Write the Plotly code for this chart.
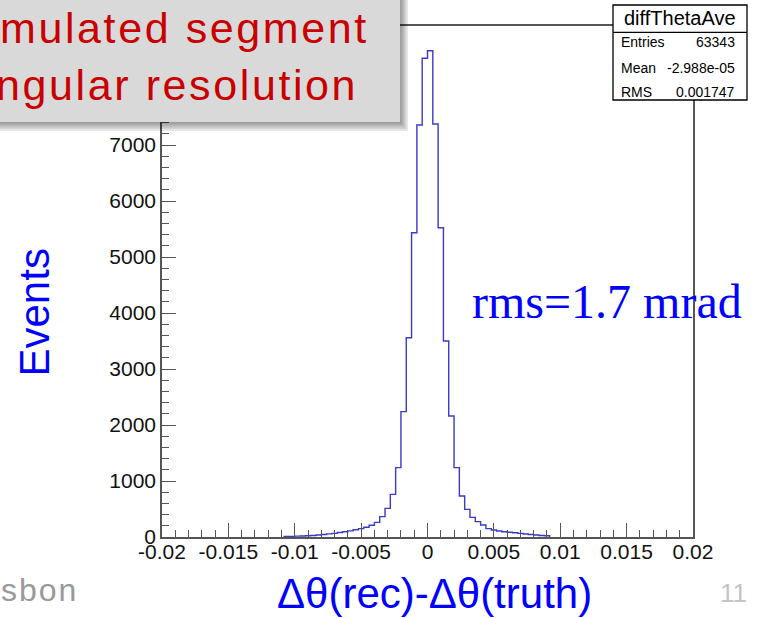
import numpy as np
import plotly.graph_objects as go

# ---------------- data ----------------
hist_name = "diffThetaAve"
hist_lo = -0.0108          # lower edge of first non-empty bin
bin_width = 0.0004         # 100 bins over [-0.02, 0.02]
counts = [
    10, 12, 15, 18, 22, 28, 35, 45, 55, 65,
    80, 95, 110, 130, 150, 175, 210, 262, 363, 512,
    762, 1238, 2238, 3559, 5434, 7357, 8548,
    8684, 7375, 5523, 3500, 2161, 1238, 732, 494, 351,
    274, 214, 150, 125, 107, 95, 85, 77, 65, 54,
    45, 36, 28, 23,
]
stat_labels = ["Entries", "Mean", "RMS"]
stat_values = ["63343", "-2.988e-05", "0.001747"]

x_tick_vals = [-0.02, -0.015, -0.01, -0.005, 0, 0.005, 0.01, 0.015, 0.02]
x_tick_labels = ["-0.02", "-0.015", "-0.01", "-0.005", "0", "0.005", "0.01", "0.015", "0.02"]
y_tick_vals = [0, 1000, 2000, 3000, 4000, 5000, 6000, 7000, 8000]
y_tick_labels = ["0", "1000", "2000", "3000", "4000", "5000", "6000", "7000", "8000"]

title_lines = ["mulated segment", "ngular resolution"]
x_title = "Δθ(rec)-Δθ(truth)"
y_title = "Events"
rms_note = "rms=1.7 mrad"
footer_left = "sbon"
page_number = "11"

# ---------------- geometry helpers ----------------
W, H = 758, 618
L, R, T, B = 162, 693, 26, 537


def X(px):
    return (px - L) / (R - L)


def Y(py):
    return (B - py) / (B - T)


edges = hist_lo + bin_width * np.arange(len(counts) + 1)
xs = np.concatenate([[edges[0]], edges[:-1], [edges[-1], edges[-1]]])
ys = np.concatenate([[0], counts, [counts[-1], 0]])

fig = go.Figure()
fig.add_trace(go.Scatter(
    x=xs, y=ys, mode="lines", line=dict(color="#3a3ac4", width=1.4, shape="hv"),
    hoverinfo="skip", showlegend=False,
))

axis_col = "#555555"
tick_font = dict(family="Liberation Sans, Arial, sans-serif", size=21, color="#111111")

fig.update_layout(
    width=W, height=H, autosize=False,
    margin=dict(l=L, r=W - R, t=T, b=H - B, pad=0),
    paper_bgcolor="white", plot_bgcolor="white",
    showlegend=False,
    xaxis=dict(
        range=[-0.02, 0.02], showgrid=False, zeroline=False,
        showline=True, linecolor=axis_col, linewidth=1.5, mirror=True,
        ticks="inside", ticklen=14, tickwidth=1.2, tickcolor=axis_col,
        tickvals=x_tick_vals, ticktext=x_tick_labels, tickfont=tick_font,
        ticklabelstandoff=-5,
        minor=dict(ticks="inside", ticklen=7, dtick=0.001, tick0=0,
                   tickwidth=1.2, tickcolor=axis_col, showgrid=False),
    ),
    yaxis=dict(
        range=[0, 9125], showgrid=False, zeroline=False,
        showline=True, linecolor=axis_col, linewidth=1.5, mirror=True,
        ticks="inside", ticklen=14, tickwidth=1.2, tickcolor=axis_col,
        tickvals=y_tick_vals, ticktext=y_tick_labels, tickfont=tick_font,
        ticklabelstandoff=0,
        minor=dict(ticks="inside", ticklen=7, dtick=200, tick0=0,
                   tickwidth=1.2, tickcolor=axis_col, showgrid=False),
    ),
)

shapes = []
# title box shadow
for k in range(1, 6):
    shapes.append(dict(type="rect", xref="paper", yref="paper", layer="above",
                       x0=X(-20), x1=X(400 + 1.6 * k), y0=Y(-20), y1=Y(122 + 1.8 * k),
                       fillcolor="rgba(0,0,0,0.09)", line=dict(width=0)))
# title box
shapes.append(dict(type="rect", xref="paper", yref="paper", layer="above",
                   x0=X(-20), x1=X(400), y0=Y(-20), y1=Y(122),
                   fillcolor="#d9d9d9", line=dict(width=0)))
# stats box
shapes.append(dict(type="rect", xref="paper", yref="paper", layer="above",
                   x0=X(613), x1=X(747), y0=Y(5), y1=Y(100),
                   fillcolor="white", line=dict(color="black", width=1.3)))
shapes.append(dict(type="line", xref="paper", yref="paper", layer="above",
                   x0=X(613), x1=X(747), y0=Y(32.3), y1=Y(32.3),
                   line=dict(color="black", width=1.3)))
fig.update_layout(shapes=shapes)

ann = []
red = "#c80000"
title_font = dict(family="Liberation Sans, Arial, sans-serif", size=43, color=red)
ann.append(dict(text='<span style="letter-spacing:2.6px">%s</span>' % title_lines[0],
                x=X(371), y=Y(28.1), xanchor="right", yanchor="middle", font=title_font))
ann.append(dict(text='<span style="letter-spacing:2.6px">%s</span>' % title_lines[1],
                x=X(360), y=Y(84.7), xanchor="right", yanchor="middle", font=title_font))

stat_font = dict(family="Liberation Sans, Arial, sans-serif", size=14, color="black")
ann.append(dict(text=hist_name, x=X(680), y=Y(18), xanchor="center", yanchor="middle",
                font=dict(family="Liberation Sans, Arial, sans-serif", size=20, color="black")))
for i, (lab, val) in enumerate(zip(stat_labels, stat_values)):
    yc = [41.5, 68, 92][i]
    ann.append(dict(text=lab, x=X(619), y=Y(yc), xanchor="left", yanchor="middle", font=stat_font))
    ann.append(dict(text=val, x=X(737), y=Y(yc), xanchor="right", yanchor="middle", font=stat_font))

blue = "#0000ff"
ann.append(dict(text=x_title, x=X(434), y=Y(593), xanchor="center", yanchor="middle",
                font=dict(family="Liberation Sans, Arial, sans-serif", size=42, color=blue)))
ann.append(dict(text=y_title, x=X(34), y=Y(312.5), xanchor="center", yanchor="middle",
                textangle=-90,
                font=dict(family="Liberation Sans, Arial, sans-serif", size=42, color=blue)))
ann.append(dict(text=rms_note, x=X(470), y=Y(301), xanchor="left", yanchor="middle",
                font=dict(family="Liberation Serif, Times New Roman, serif", size=48, color=blue)))
ann.append(dict(text='<span style="letter-spacing:2px">%s</span>' % footer_left,
                x=X(-1), y=Y(590), xanchor="left", yanchor="middle",
                font=dict(family="Liberation Sans, Arial, sans-serif", size=32, color="#999999")))
ann.append(dict(text=page_number, x=X(733), y=Y(593), xanchor="center", yanchor="middle",
                font=dict(family="Liberation Sans, Arial, sans-serif", size=26, color="#c4c4c4")))

for a in ann:
    a.update(xref="paper", yref="paper", showarrow=False)
fig.update_layout(annotations=ann)

fig.write_html("out.html")
